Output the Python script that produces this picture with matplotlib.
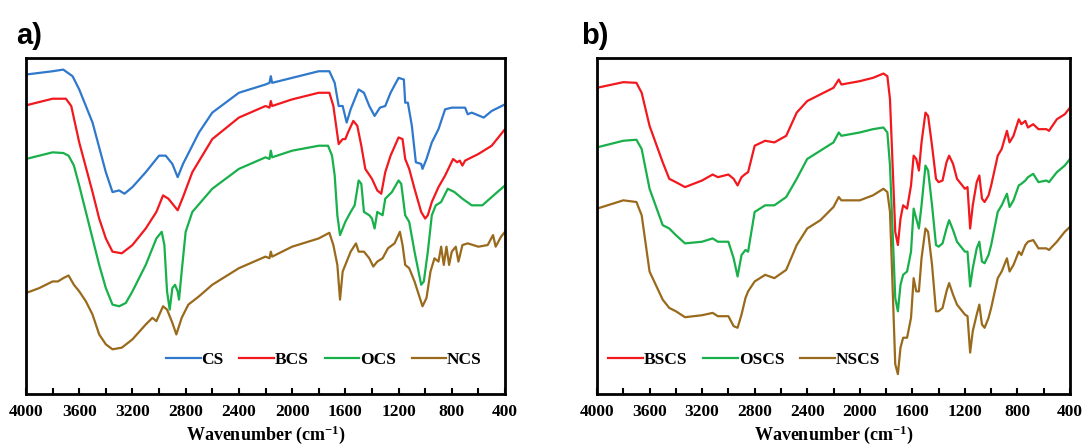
import matplotlib.pyplot as plt

# ---- panel a) ----
wn_cs = [4000, 3800, 3720, 3650, 3600, 3500, 3400, 3350, 3300, 3260, 3200, 3100, 3000, 2950, 2900, 2860, 2820,
         2700, 2600, 2400, 2200, 2170, 2160, 2150, 2000, 1800, 1720, 1680, 1650, 1620, 1590, 1560, 1500, 1460,
         1420, 1380, 1340, 1300, 1260, 1200, 1160, 1150, 1130, 1100, 1070, 1030, 1020, 990, 950, 900, 850, 800,
         700, 680, 650, 560, 500, 400]
cs = [96.5, 97.5, 98, 96, 92, 82, 67, 61, 61.5, 60.5, 62.5, 67, 72, 72, 69.5, 65.5, 69.5,
      79, 85, 91, 93.5, 94, 96, 94, 95.5, 97.5, 97.5, 94, 87, 87, 82, 86, 92, 91,
      87, 84, 86.5, 87, 91, 95.5, 95, 88, 88, 81, 70, 69.5, 68, 71, 76, 80, 86, 86.5,
      86.5, 84.5, 85, 83.5, 85.5, 87.5]

wn_bcs = [4000, 3800, 3700, 3660, 3600, 3500, 3450, 3400, 3350, 3280, 3200, 3100, 3020, 2970, 2930, 2900, 2860,
          2820, 2750, 2600, 2400, 2200, 2170, 2160, 2150, 2000, 1800, 1720, 1690, 1650, 1620, 1600, 1580, 1540,
          1510, 1480, 1450, 1400, 1360, 1330, 1300, 1260, 1200, 1170, 1150, 1120, 1080, 1030, 1000, 980, 950,
          900, 850, 790, 760, 740, 720, 700, 600, 500, 400]
bcs = [87.2, 89.2, 89.2, 87, 76, 61, 53, 47, 43, 42.5, 45, 50, 55, 60, 59, 57.5, 55.5,
       59.5, 67, 77, 83.5, 87, 86.5, 88.5, 87, 89, 91, 91, 87, 75.5, 77, 77, 79, 82.5,
       81, 75, 68, 65, 61.5, 60.5, 67, 72, 77.5, 77, 71, 68, 62, 55, 53, 54, 58,
       62.5, 66, 71, 70, 70.5, 69, 70.5, 72.5, 75, 80]

wn_ocs = [4000, 3800, 3720, 3680, 3640, 3600, 3500, 3450, 3400, 3350, 3300, 3250, 3200, 3100, 3020, 2980, 2960,
          2940, 2920, 2900, 2880, 2860, 2850, 2830, 2800, 2750, 2600, 2400, 2200, 2170, 2160, 2150, 2000, 1800,
          1730, 1700, 1680, 1660, 1640, 1600, 1560, 1530, 1500, 1480, 1460, 1420, 1400, 1380, 1360, 1320, 1300,
          1250, 1200, 1180, 1150, 1120, 1080, 1050, 1030, 1010, 980, 950, 920, 880, 830, 780, 720, 650, 570,
          500, 400]
ocs = [71, 73, 72.8, 72, 69, 63, 47, 39, 32, 27, 26.5, 27.5, 31, 39, 47, 49, 45,
       31, 25.5, 32, 33, 31, 28.5, 37, 49, 55, 62, 68, 71.5, 71, 73.5, 71.5, 73.5, 75,
       75, 72, 66, 54, 48, 52, 55, 57, 64.5, 63.5, 55, 54, 53, 50, 55, 54, 59,
       61, 64.5, 63.5, 54, 52, 43, 37, 33, 34, 43, 54, 57, 58, 62, 61, 59, 57, 57,
       59.5, 63]

wn_ncs = [4000, 3900, 3800, 3760, 3720, 3680, 3640, 3600, 3550, 3500, 3450, 3400, 3350, 3280, 3200, 3100, 3050,
          3020, 2970, 2940, 2900, 2870, 2830, 2780, 2700, 2600, 2400, 2200, 2170, 2160, 2150, 2000, 1800, 1720,
          1690, 1660, 1640, 1620, 1600, 1560, 1520, 1500, 1460, 1420, 1390, 1360, 1320, 1280, 1230, 1190, 1170,
          1150, 1120, 1080, 1040, 1020, 990, 960, 930, 900, 880, 860, 840, 820, 800, 770, 750, 720, 680, 600,
          530, 490, 470, 430, 400]
ncs = [30.5, 32, 34, 34, 35, 35.8, 33, 31, 28, 24, 18, 15, 13.5, 14, 16.5, 21, 23,
       22, 26.5, 25.5, 21.5, 18, 23, 27, 29.5, 33, 38, 41.5, 41, 43, 41.5, 44.5, 47, 48.7,
       45, 39, 28.5, 37, 39, 43, 45.5, 43, 43, 41, 38.5, 40, 41, 44, 45.5, 49, 45,
       39, 38, 34, 29, 26.5, 29, 37, 41, 40, 44.5, 39, 44.5, 39, 43, 44.5, 40, 45, 45.5, 44.5,
       45, 48, 44.5, 47.5, 49]

# ---- panel b) ----
wn_b = [4000, 3800, 3700, 3660, 3600, 3500, 3450, 3400, 3330, 3200, 3120, 3080, 3000, 2960, 2930, 2900, 2870,
        2850, 2800, 2720, 2650, 2560, 2480, 2400, 2300, 2200, 2160, 2140, 2000, 1900, 1820, 1790, 1770, 1750,
        1730, 1710, 1690, 1670, 1640, 1610, 1590, 1570, 1550, 1530, 1500, 1480, 1450, 1420, 1400, 1370, 1340,
        1320, 1290, 1260, 1220, 1200, 1180, 1160, 1140, 1110, 1090, 1070, 1050, 1020, 1000, 950, 920, 880,
        860, 830, 790, 770, 740, 720, 680, 640, 580, 560, 500, 440, 400]
bscs = [92.5, 94.2, 94, 91, 81, 70, 65, 64, 62.5, 64.5, 66.3, 65.5, 66.3, 65, 63, 65.5, 66.5,
        67, 75, 76.5, 76, 78, 85, 88.5, 90.5, 92.5, 95, 93.5, 94.5, 95.5, 96.8, 96, 89, 69,
        49, 45, 53, 57, 56, 63, 72, 71, 67.5, 76, 85, 84, 75, 65, 64, 64.5, 70,
        72, 69.5, 65, 63, 62, 62.5, 50, 57, 64, 66, 59, 58, 60, 63, 72, 74, 79.5,
        76, 78, 83, 81.5, 82.5, 80.5, 81.5, 80, 80, 79.5, 83, 84.5, 86.5]
oscs = [74.5, 76.5, 76.8, 74, 62, 51, 50, 48, 45.5, 46, 47, 46, 46, 41, 35.5, 42, 43.5,
        43, 55, 57, 57, 59.5, 65, 71, 73.5, 76, 79, 78, 79, 80, 80.5, 79, 69, 49,
        29, 25, 33, 36, 37, 43, 56, 53, 50, 57, 69, 67.5, 57, 45, 44.5, 45.5, 50,
        52.5, 49.5, 46, 44, 43, 43, 32.5, 38, 44, 46, 40, 39.5, 42, 45, 55, 57, 60.5,
        56.5, 58.5, 63, 63.5, 64.5, 65.5, 66.5, 64, 64.5, 64, 67, 69, 71]
nscs = [56, 58.5, 58, 54, 37, 28.5, 26, 25, 23.2, 23.8, 24.5, 23.5, 23.5, 20.5, 20, 24, 29,
        31, 34, 36, 35, 37.5, 45, 50, 52.5, 56.5, 59.5, 58.5, 58.5, 60, 62, 61, 55, 32,
        9, 6, 14, 17, 17, 23, 35, 31, 31, 41, 50, 49, 39, 25, 25, 26, 31,
        33.5, 30, 27, 25, 24, 23.5, 12.5, 19, 24, 27, 21, 20, 23, 26, 35, 37, 41,
        37, 39, 43, 42, 45, 46, 46.5, 44, 44, 43.5, 46, 49, 50.5]

blue = '#2f78cc'
red = '#f2191e'
green = '#18b04a'
brown = '#9a6a1c'

serif = ['Liberation Serif', 'DejaVu Serif']
plt.rcParams['mathtext.fontset'] = 'custom'
plt.rcParams['mathtext.rm'] = 'Liberation Serif:bold'
plt.rcParams['mathtext.bf'] = 'Liberation Serif:bold'
plt.rcParams['mathtext.it'] = 'Liberation Serif:bold'

W, H = 1091, 448
fig = plt.figure(figsize=(W / 100, H / 100), dpi=100)
ax1 = fig.add_axes([26 / W, (H - 394) / H, 479 / W, 336 / H])
ax2 = fig.add_axes([597 / W, (H - 394) / H, 473 / W, 336 / H])

ax1.plot(wn_cs, cs, color=blue, lw=1.6, label='CS')
ax1.plot(wn_bcs, bcs, color=red, lw=1.6, label='BCS')
ax1.plot(wn_ocs, ocs, color=green, lw=1.6, label='OCS')
ax1.plot(wn_ncs, ncs, color=brown, lw=1.6, label='NCS')

ax2.plot(wn_b, bscs, color=red, lw=1.6, label='BSCS')
ax2.plot(wn_b, oscs, color=green, lw=1.6, label='OSCS')
ax2.plot(wn_b, nscs, color=brown, lw=1.6, label='NSCS')

for ax, lx in [(ax1, 0.622), (ax2, 0.311)]:
    ax.set_xlim(4000, 400)
    ax.set_ylim(0, 101.5)
    ax.set_xticks(range(4000, 399, -400))
    ax.set_xticks(range(3800, 400, -400), minor=True)
    ax.set_yticks([])
    ax.tick_params(axis='x', which='both', direction='in', length=4, width=1.5, top=False, pad=7)
    for sp in ax.spines.values():
        sp.set_linewidth(2)
    for t in ax.get_xticklabels():
        t.set_fontfamily(serif)
        t.set_fontweight('bold')
        t.set_fontsize(12.5)
    ax.set_xlabel('Wavenumber (cm$^{-1}$)', fontfamily=serif, fontweight='bold',
                  fontsize=13, labelpad=3)
    ax.legend(loc='center', bbox_to_anchor=(lx, 0.10), ncol=4, frameon=False,
              prop={'family': serif, 'weight': 'bold', 'size': 12.5},
              handlelength=2.0, handletextpad=0.05, columnspacing=0.9)

sans = ['Liberation Sans', 'DejaVu Sans']
fig.text(16 / W, 1 - 36 / H, 'a)', fontfamily=sans, fontweight='bold', fontsize=21, va='center', ha='left')
fig.text(581 / W, 1 - 36 / H, 'b)', fontfamily=sans, fontweight='bold', fontsize=21, va='center', ha='left')

fig.savefig('out.png', dpi=100)
